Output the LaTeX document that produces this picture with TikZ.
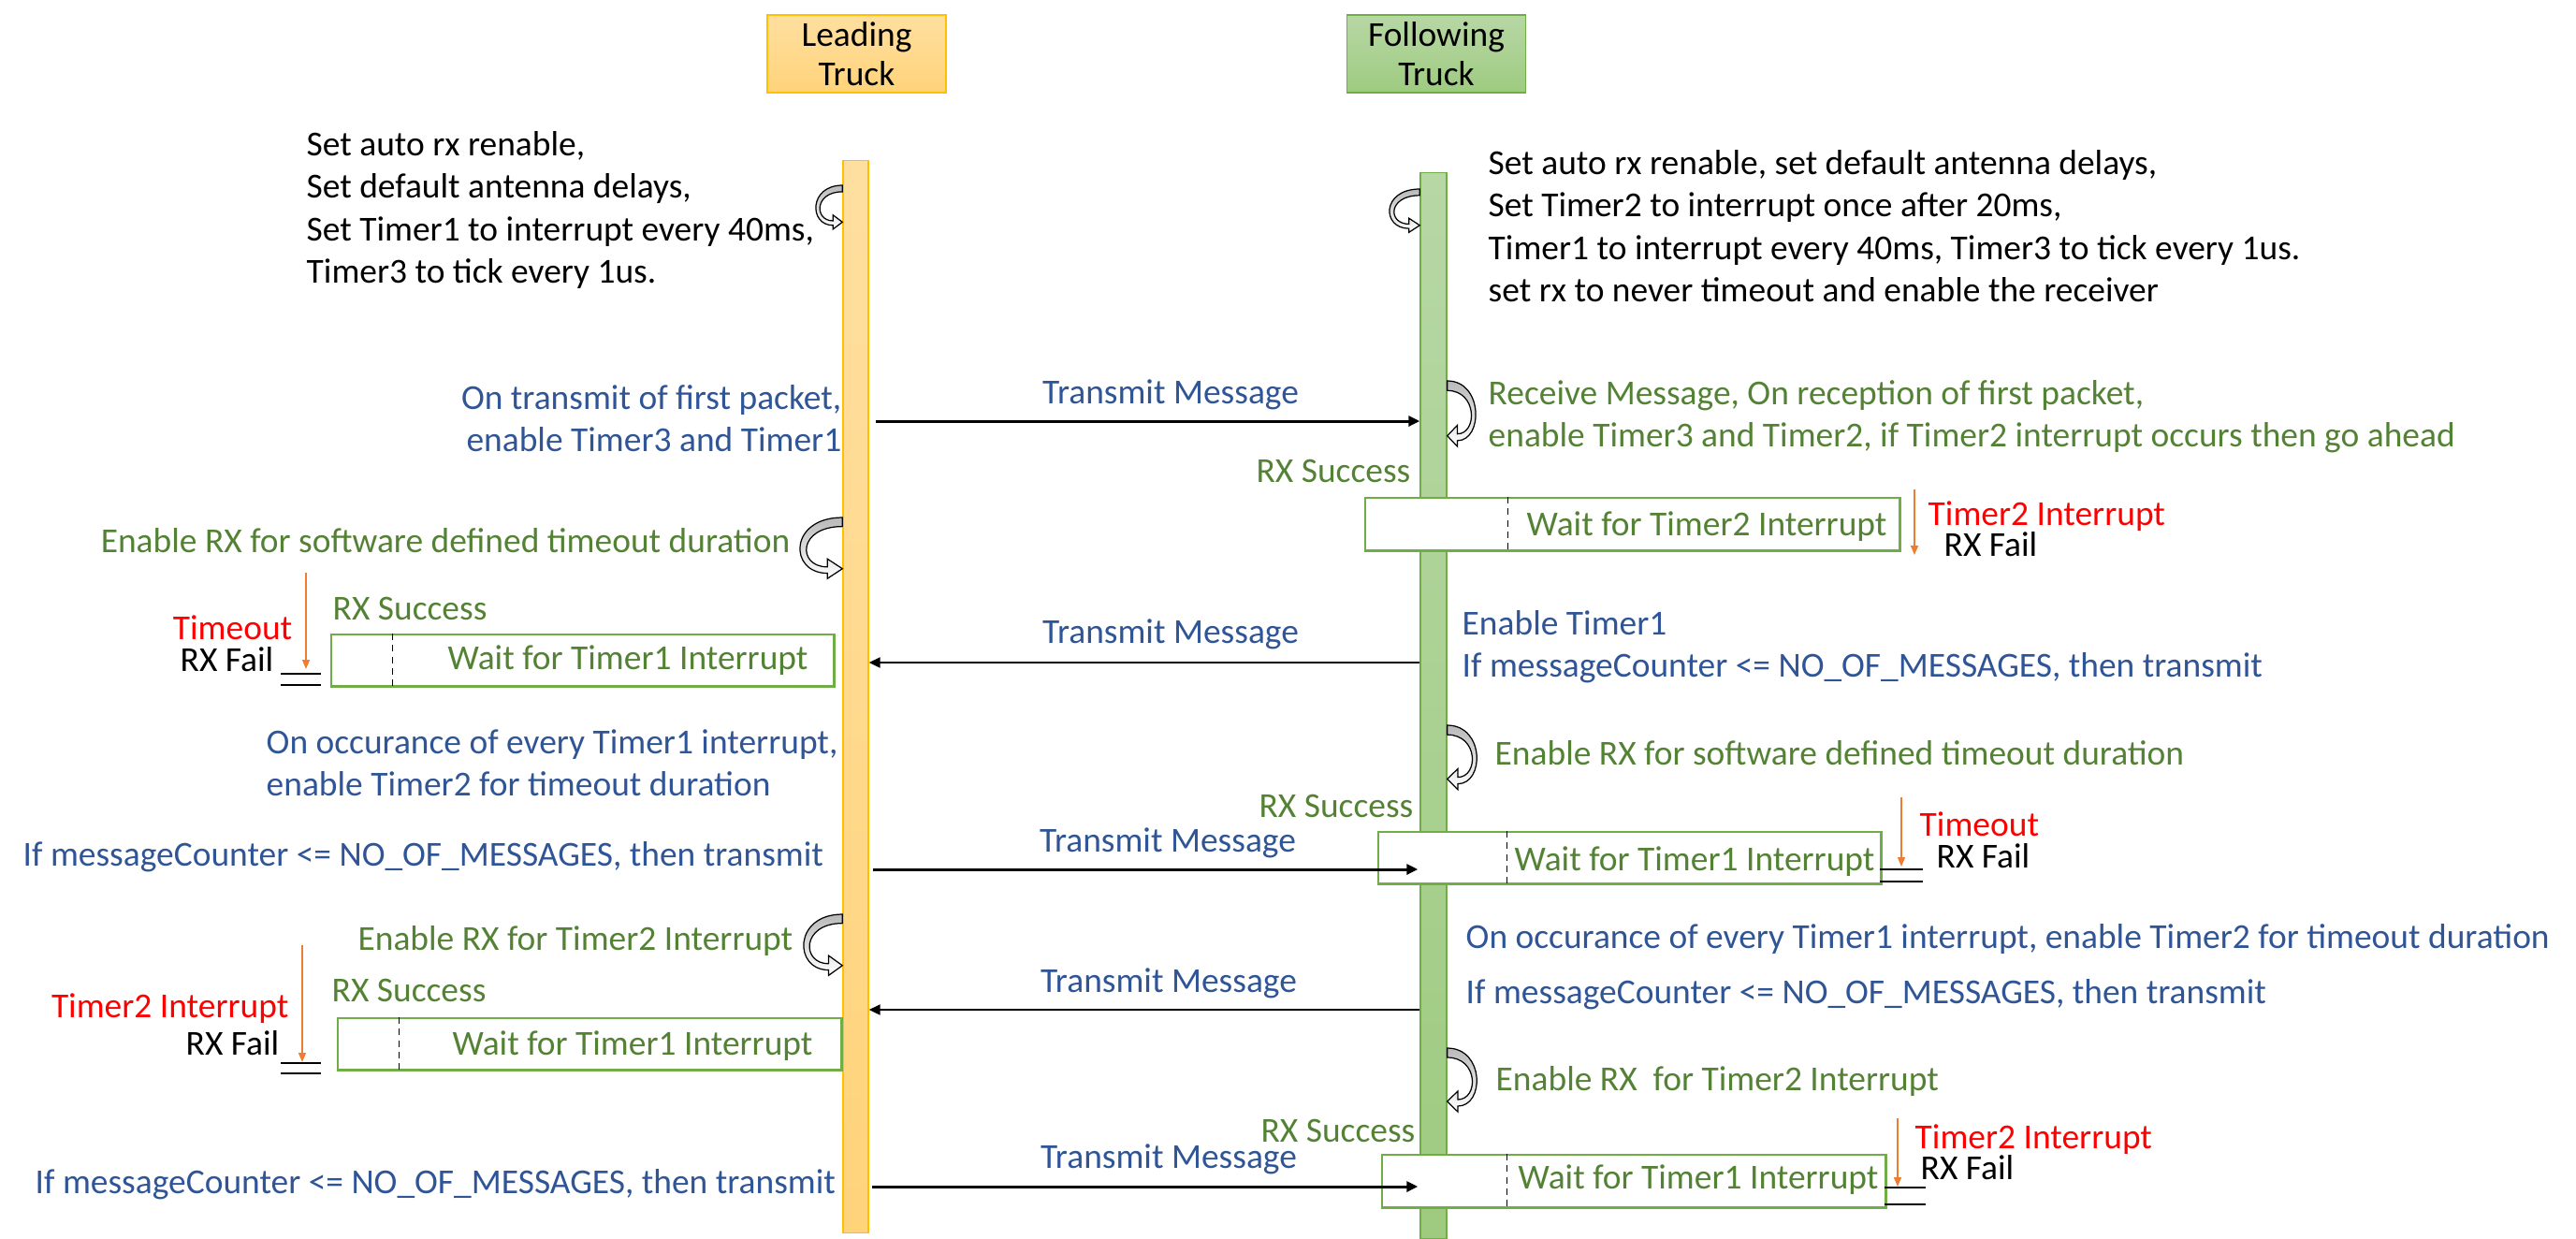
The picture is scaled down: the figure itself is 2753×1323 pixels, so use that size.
\documentclass[tikz,border=0pt]{standalone}
\usepackage{fontspec}
\setmainfont{Carlito}
\usetikzlibrary{arrows.meta}

\definecolor{msgblue}{RGB}{47,85,151}
\definecolor{okgreen}{RGB}{84,130,53}
\definecolor{boxgreen}{RGB}{112,173,71}
\definecolor{leadgold}{RGB}{255,192,0}
\definecolor{leadtop}{RGB}{255,223,160}
\definecolor{leadbot}{RGB}{255,211,122}
\definecolor{followtop}{RGB}{183,215,165}
\definecolor{followbot}{RGB}{158,203,128}
\definecolor{failorange}{RGB}{237,125,49}

% curved self-arrow beside a lifeline
\tikzset{
  curl/.pic={
    \path[draw=black, line width=0.35pt, top color=gray!55, middle color=white, bottom color=white]
      (0,0) .. controls (-50,0) and (-50,62) .. (-14,62)
      -- (-14,68) -- (0,57) -- (-14,46) -- (-14,55)
      .. controls (-42,55) and (-42,10) .. (0,10) -- cycle;
  }
}

\begin{document}
\begin{tikzpicture}[x=0.01cm, y=-0.01cm,
    every node/.style={inner sep=0pt, font=\fontsize{10.65}{12.8}\selectfont},
    head/.style={draw, line width=0.5pt, minimum width=1.91cm, minimum height=0.83cm,
                 align=center, font=\fontsize{10.65}{12}\selectfont},
    lifeline/.style={draw, line width=0.4pt},
    note/.style={align=left},
    plan/.style={text=msgblue},
    recv/.style={text=okgreen},
    alarm/.style={text=red},
    waitbox/.style={draw=boxgreen, fill=white, line width=0.7pt, anchor=north west},
    divider/.style={dashed, dash pattern=on 2pt off 1.5pt, line width=0.3pt},
    msg/.style={-{Triangle[length=0.12cm, width=0.11cm]}, line width=0.6pt},
    fail/.style={draw=failorange, line width=0.45pt, -{Triangle[length=0.1cm, width=0.08cm]}},
    ground/.style={line width=0.8pt}]

    \useasboundingbox (0,0) rectangle (2753,1323);

    % trucks and lifelines
    \node[head, draw=leadgold, top color=leadtop, bottom color=leadbot] (lead) at (915.5,57.5) {Leading\\Truck};
    \node[head, draw=boxgreen, top color=followtop, bottom color=followbot] (follow) at (1535,57.5) {Following\\Truck};
    \node[lifeline, draw=leadgold, top color=leadtop, bottom color=leadbot,
          minimum width=0.27cm, minimum height=11.45cm] (leadbar) at (914.5,744.5) {};
    \node[lifeline, draw=boxgreen, top color=followtop, bottom color=followbot,
          minimum width=0.28cm, minimum height=11.38cm] (followbar) at (1532,754) {};

    % message levels
    \coordinate (m1) at (0,450);
    \coordinate (m2) at (0,708);
    \coordinate (m3) at (0,929);
    \coordinate (m4) at (0,1079);
    \coordinate (m5) at (0,1268);

    % leading truck side (multi-line notes sit on their last line)
    \node[note, anchor=base west] (leadinit) at (327,302) {Set auto rx renable,\\Set default antenna delays,\\Set Timer1 to interrupt every 40ms,\\Timer3 to tick every 1us.};
    \pic[xscale=0.72, yscale=0.69] at (leadbar.west |- 0,198) {curl};
    \node[plan, align=right, anchor=base east] (firsttx) at (900,482) {On transmit of first packet,\\enable Timer3 and Timer1};
    \node[recv, anchor=base east] (leadrx1) at (845,590) {Enable RX for software defined timeout duration};
    \pic[xscale=1.15, yscale=0.96] at (leadbar.west |- 0,553) {curl};

    \node[recv, anchor=base west] (leadok1) at (355,662) {RX Success};
    \node[waitbox, minimum width=5.37cm, minimum height=0.55cm] (leadwait1) at (353,677) {};
    \draw[divider] ([xshift=0.66cm]leadwait1.north west) -- ([xshift=0.66cm]leadwait1.south west);
    \node[recv, anchor=base west] (leadwait1txt) at (478,715) {Wait for Timer1 Interrupt};
    \node[alarm, anchor=base east] (leadto1) at (313,683) {Timeout};
    \node[anchor=base east] (leadfail1) at (293,717) {RX Fail};
    \coordinate (leadto1top) at (327,612);
    \draw[fail] (leadto1top) -- ++(0,103);
    \draw[ground] (300,720) -- (343,720) (300,732) -- (343,732);

    \node[plan, note, anchor=base west] (leadtick) at (284,850) {On occurance of every Timer1 interrupt,\\enable Timer2 for timeout duration};
    \node[plan, anchor=base west] (leadtx2) at (24,925) {If messageCounter <= NO\_OF\_MESSAGES, then transmit};
    \node[recv, anchor=base east] (leadrx2) at (848,1015) {Enable RX for Timer2 Interrupt};
    \pic[xscale=1.05, yscale=0.96] at (leadbar.west |- 0,977) {curl};

    \node[recv, anchor=base west] (leadok2) at (354,1070) {RX Success};
    \node[waitbox, minimum width=5.38cm, minimum height=0.55cm] (leadwait2) at (360,1087) {};
    \draw[divider] ([xshift=0.66cm]leadwait2.north west) -- ([xshift=0.66cm]leadwait2.south west);
    \node[recv, anchor=base west] (leadwait2txt) at (483,1127) {Wait for Timer1 Interrupt};
    \node[alarm, anchor=base east] (leadto2) at (309,1087) {Timer2 Interrupt};
    \node[anchor=base east] (leadfail2) at (299,1127) {RX Fail};
    \coordinate (leadto2top) at (323,1010);
    \draw[fail] (leadto2top) -- ++(0,125);
    \draw[ground] (300,1136) -- (343,1136) (300,1147) -- (343,1147);
    \node[plan, anchor=base west] (leadtx3) at (37,1275) {If messageCounter <= NO\_OF\_MESSAGES, then transmit};

    % following truck side
    \node[note, anchor=base west] (followinit) at (1590,322) {Set auto rx renable, set default antenna delays,\\Set Timer2 to interrupt once after 20ms,\\Timer1 to interrupt every 40ms, Timer3 to tick every 1us.\\set rx to never timeout and enable the receiver};
    \pic[xscale=0.82, yscale=0.68] at (followbar.west |- 0,202) {curl};
    \pic[xscale=-0.77, yscale=1.03] at (followbar.east |- 0,407) {curl};
    \node[recv, note, anchor=base west] (firstrx) at (1590,477) {Receive Message, On reception of first packet,\\enable Timer3 and Timer2, if Timer2 interrupt occurs then go ahead};

    \node[recv, anchor=base east] (followok1) at (1508,515) {RX Success};
    \node[waitbox, minimum width=5.71cm, minimum height=0.56cm] (followwait1) at (1458,531) {};
    \draw[divider] ([xshift=1.53cm]followwait1.north west) -- ([xshift=1.53cm]followwait1.south west);
    \node[recv, anchor=base west] (followwait1txt) at (1631,572) {Wait for Timer2 Interrupt};
    \coordinate (followto1top) at (2046,523);
    \draw[fail] (followto1top) -- ++(0,70);
    \node[alarm, anchor=base west] (followto1) at (2060,561) {Timer2 Interrupt};
    \node[anchor=base west] (followfail1) at (2077,594) {RX Fail};

    \node[plan, note, anchor=base west] (followtx1) at (1562,723) {Enable Timer1\\If messageCounter <= NO\_OF\_MESSAGES, then transmit};
    \pic[xscale=-0.8, yscale=1.01] at (followbar.east |- 0,775) {curl};
    \node[recv, anchor=base west] (followrx1) at (1597,817) {Enable RX for software defined timeout duration};

    \node[recv, anchor=base east] (followok2) at (1511,873) {RX Success};
    \node[waitbox, minimum width=5.37cm, minimum height=0.55cm] (followwait2) at (1472,888) {};
    \draw[divider] ([xshift=1.38cm]followwait2.north west) -- ([xshift=1.38cm]followwait2.south west);
    \node[recv, anchor=base west] (followwait2txt) at (1618,930) {Wait for Timer1 Interrupt};
    \coordinate (followto2top) at (2032,852);
    \draw[fail] (followto2top) -- ++(0,74);
    \node[alarm, anchor=base west] (followto2) at (2051,893) {Timeout};
    \node[anchor=base west] (followfail2) at (2069,927) {RX Fail};
    \draw[ground] (2009,929) -- (2055,929) (2009,942) -- (2055,942);

    \node[plan, anchor=base west] (followtick) at (1566,1013) {On occurance of every Timer1 interrupt, enable Timer2 for timeout duration};
    \node[plan, anchor=base west] (followtx2) at (1566,1072) {If messageCounter <= NO\_OF\_MESSAGES, then transmit};
    \pic[xscale=-0.8, yscale=1.0] at (followbar.east |- 0,1120) {curl};
    \node[recv, anchor=base west] (followrx2) at (1598,1165) {Enable RX\ \ for Timer2 Interrupt};

    \node[recv, anchor=base east] (followok3) at (1513,1220) {RX Success};
    \node[waitbox, minimum width=5.38cm, minimum height=0.56cm] (followwait3) at (1476,1233) {};
    \draw[divider] ([xshift=1.34cm]followwait3.north west) -- ([xshift=1.34cm]followwait3.south west);
    \node[recv, anchor=base west] (followwait3txt) at (1622,1270) {Wait for Timer1 Interrupt};
    \coordinate (followto3top) at (2028,1195);
    \draw[fail] (followto3top) -- ++(0,73);
    \node[alarm, anchor=base west] (followto3) at (2046,1227) {Timer2 Interrupt};
    \node[anchor=base west] (followfail3) at (2052,1260) {RX Fail};
    \draw[ground] (2014,1269) -- (2058,1269) (2014,1287) -- (2058,1287);

    % messages between the trucks
    \draw[msg, line width=0.85pt] ([xshift=0.07cm]leadbar.east |- m1) -- (followbar.west |- m1);
    \draw[msg] (followbar.west |- m2) -- (leadbar.east |- m2);
    \draw[msg, line width=0.85pt] ([xshift=0.04cm]leadbar.east |- m3) -- ([xshift=-0.02cm]followbar.west |- m3);
    \draw[msg] (followbar.west |- m4) -- (leadbar.east |- m4);
    \draw[msg, line width=0.85pt] ([xshift=0.03cm]leadbar.east |- m5) -- ([xshift=-0.02cm]followbar.west |- m5);
    \node[plan, anchor=base] (tx1) at (1251,431) {Transmit Message};
    \node[plan, anchor=base] (tx2) at (1251,687) {Transmit Message};
    \node[plan, anchor=base] (tx3) at (1248,910) {Transmit Message};
    \node[plan, anchor=base] (tx4) at (1249,1060) {Transmit Message};
    \node[plan, anchor=base] (tx5) at (1249,1248) {Transmit Message};
\end{tikzpicture}
\end{document}
